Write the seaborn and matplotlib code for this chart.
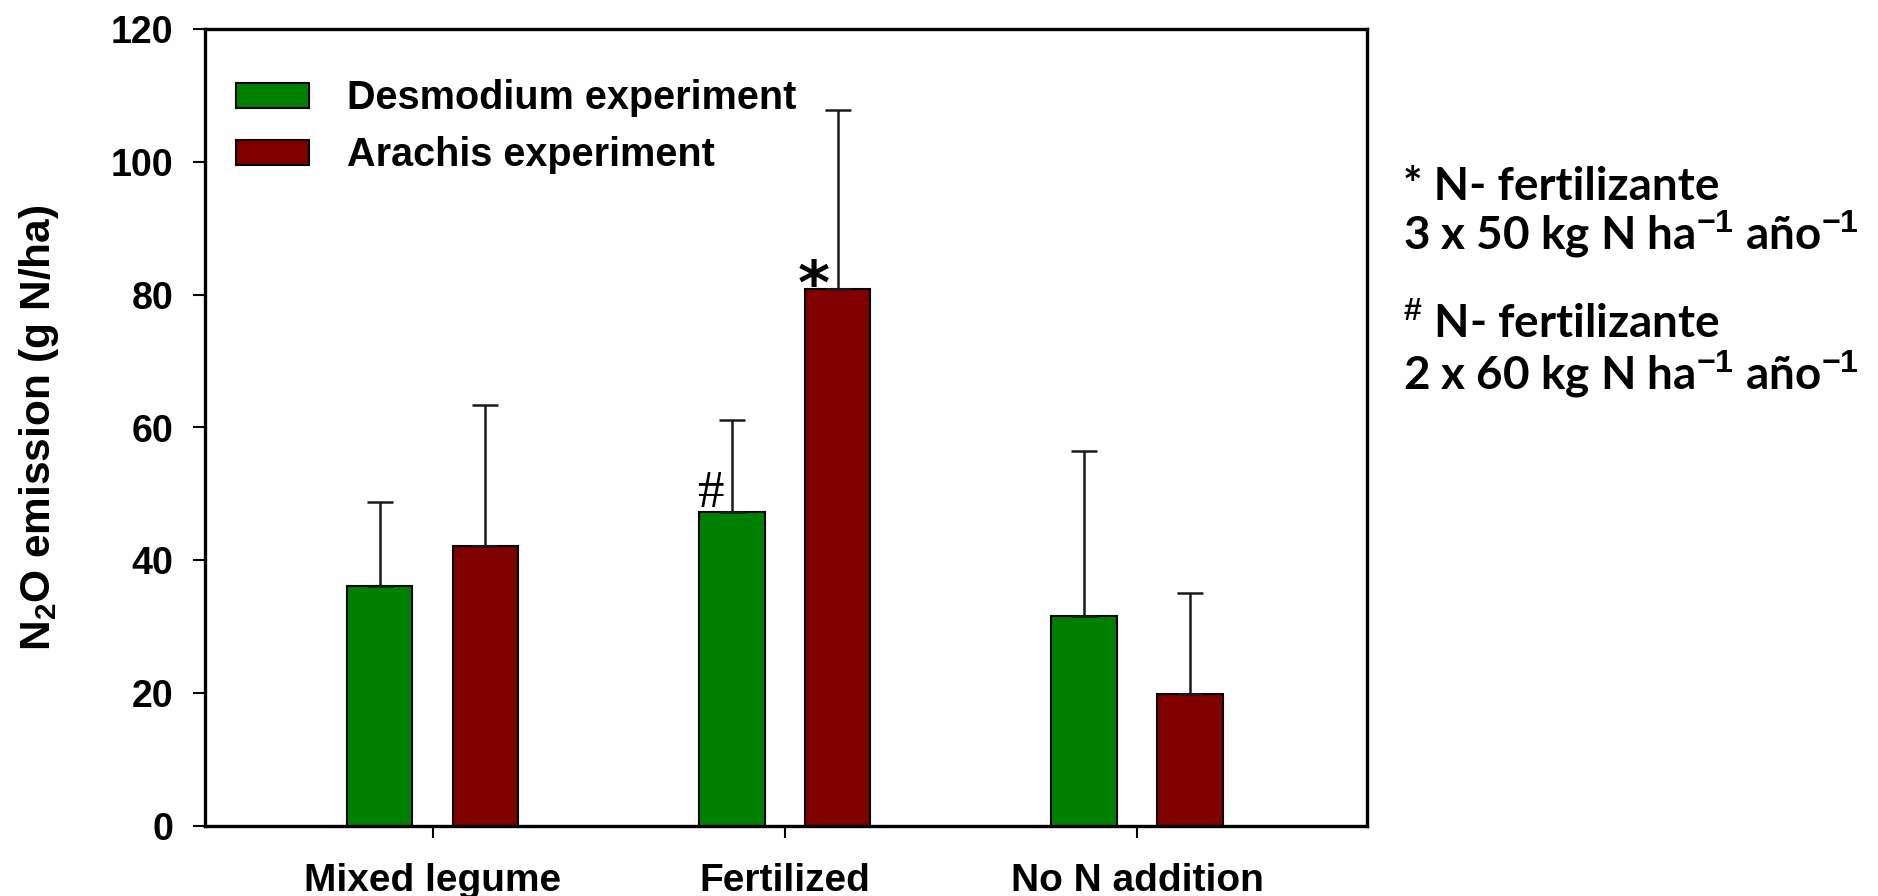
import pandas as pd
import matplotlib
matplotlib.use("Agg")
import matplotlib.pyplot as plt
import seaborn as sns

sns.set_style("ticks")
plt.rcParams['font.family'] = ['Liberation Sans', 'DejaVu Sans']
plt.rcParams['font.weight'] = 'bold'
plt.rcParams['text.color'] = 'black'
plt.rcParams['axes.labelcolor'] = 'black'
plt.rcParams['xtick.color'] = 'black'
plt.rcParams['ytick.color'] = 'black'
plt.rcParams['mathtext.fontset'] = 'custom'
plt.rcParams['mathtext.rm'] = 'Liberation Sans:bold'
plt.rcParams['mathtext.bf'] = 'Liberation Sans:bold'
plt.rcParams['mathtext.it'] = 'Liberation Sans:bold'
plt.rcParams['mathtext.sf'] = 'Liberation Sans:bold'

# datos
treatments = ['Mixed legume', 'Fertilized', 'No N addition']
experiments = ['Desmodium experiment', 'Arachis experiment']
desmodium_mean = [36.1, 47.3, 31.6]
desmodium_err = [12.6, 13.8, 24.9]
arachis_mean = [42.1, 80.8, 19.8]
arachis_err = [21.3, 27.0, 15.2]
y_ticks = [0, 20, 40, 60, 80, 100, 120]

colors = ['#008000', '#800000']

df = pd.DataFrame({
    'treatment': treatments * 2,
    'experiment': [experiments[0]] * 3 + [experiments[1]] * 3,
    'n2o': desmodium_mean + arachis_mean,
})
errors = [desmodium_err, arachis_err]

W, H = 1878, 896
fig = plt.figure(figsize=(W / 100, H / 100), dpi=100)
ax = fig.add_axes([205 / W, 1 - 825.7 / H, (1367 - 205) / W, (825.7 - 29.3) / H])

sns.barplot(data=df, x='treatment', y='n2o', hue='experiment',
            order=treatments, hue_order=experiments, palette=colors,
            width=0.6, gap=0.38, errorbar=None, edgecolor='black',
            linewidth=1.5, saturation=1, ax=ax)

# barras de error solo hacia arriba
for container, err in zip(ax.containers, errors):
    for bar, e in zip(container, err):
        xc = bar.get_x() + bar.get_width() / 2
        ax.errorbar(xc, bar.get_height(), yerr=[[0], [e]], fmt='none',
                    ecolor='#1a1a1a', elinewidth=1.8, capsize=9.4,
                    capthick=1.8, zorder=1)

# marcas sobre las barras Fertilized
green_fert = ax.containers[0][1]
red_fert = ax.containers[1][1]
ax.annotate('#', xy=(green_fert.get_x(), green_fert.get_height()),
            xytext=(9, 3.4), textcoords='offset points', ha='center',
            va='baseline', fontsize=38, fontweight='normal',
            family='Liberation Serif')
ax.annotate('*', xy=(red_fert.get_x(), red_fert.get_height()),
            xytext=(6.5, -10.5), textcoords='offset points', ha='center',
            va='baseline', fontsize=44, fontweight='bold', family='DejaVu Sans')

ax.set_xlim(-0.646, 2.653)
ax.set_ylim(0, 120)
ax.set_yticks(y_ticks)
ax.set_xlabel('')
ax.set_ylabel('N$_2$O emission (g N/ha)', fontsize=30.5, fontweight='bold')
ax.yaxis.set_label_coords(-0.124, 0.5)

ax.tick_params(axis='both', direction='out', length=8.6, width=1.5,
               colors='black')
ax.tick_params(axis='y', pad=14)
ax.tick_params(axis='x', pad=18)
for lab in ax.get_xticklabels():
    lab.set_fontsize(28)
    lab.set_fontweight('bold')
for lab in ax.get_yticklabels():
    lab.set_fontsize(27)
    lab.set_fontweight('bold')

for sp in ax.spines.values():
    sp.set_visible(True)
    sp.set_linewidth(2.4)
    sp.set_color('black')

handles, labels = ax.get_legend_handles_labels()
ax.legend(handles, labels, loc='upper left', bbox_to_anchor=(0.0267, 0.9375),
          frameon=False, prop={'size': 28.5, 'weight': 'bold'},
          handlelength=1.84, handleheight=0.6, handletextpad=0.96,
          labelspacing=0.48, borderpad=0, borderaxespad=0)

# notas de la derecha
note_font = dict(fontsize=33, family='Lato', fontweight='bold', color='black',
                 ha='left', va='baseline')
x_note = 1403 / W
fig.text(x_note, 1 - 200 / H, '* N- fertilizante', **note_font)
fig.text(x_note, 1 - 249 / H, '3 x 50 kg N ha$^{-1}$ año$^{-1}$', **note_font)
fig.text(x_note, 1 - 338 / H, '$^{\\#}$ N- fertilizante', **note_font)
fig.text(x_note, 1 - 389 / H, '2 x 60 kg N ha$^{-1}$ año$^{-1}$', **note_font)

fig.savefig('out.png', dpi=100, facecolor='white')
